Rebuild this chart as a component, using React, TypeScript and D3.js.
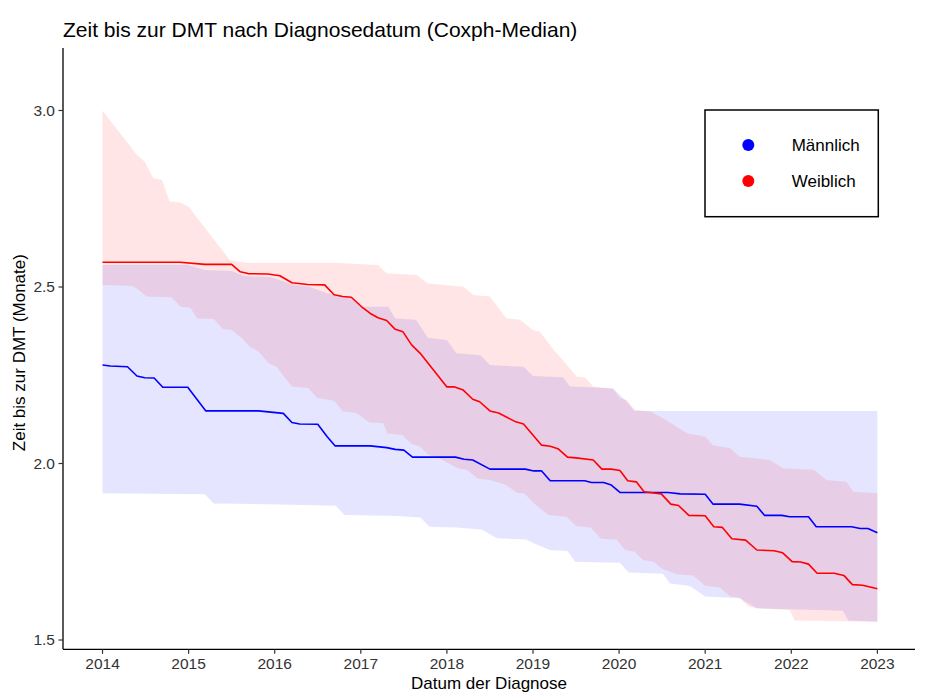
import * as d3 from 'd3'

// [decimal year, months]
const maleMedian: [number, number][] = [
  [2014.0, 2.279], [2014.09, 2.276], [2014.29, 2.274], [2014.4, 2.248], [2014.49, 2.243], [2014.6, 2.242],
  [2014.7, 2.216], [2014.99, 2.216], [2015.2, 2.149], [2015.81, 2.149], [2016.1, 2.142], [2016.2, 2.116],
  [2016.29, 2.112], [2016.5, 2.111], [2016.61, 2.076], [2016.7, 2.05], [2017.11, 2.05], [2017.3, 2.045],
  [2017.4, 2.04], [2017.5, 2.038], [2017.6, 2.018], [2018.1, 2.018], [2018.2, 2.012], [2018.3, 2.01],
  [2018.5, 1.984], [2018.91, 1.984], [2019.01, 1.979], [2019.1, 1.979], [2019.2, 1.951], [2019.6, 1.951],
  [2019.68, 1.946], [2019.82, 1.946], [2019.91, 1.939], [2020.01, 1.918], [2020.57, 1.918], [2020.71, 1.914],
  [2021.0, 1.913], [2021.09, 1.885], [2021.4, 1.885], [2021.6, 1.879], [2021.69, 1.853], [2021.89, 1.853],
  [2021.98, 1.849], [2022.2, 1.849], [2022.29, 1.821], [2022.7, 1.821], [2022.8, 1.816], [2022.89, 1.816],
  [2023.0, 1.804],
]

const maleUpper: [number, number][] = [
  [2014.0, 2.562], [2014.99, 2.562], [2015.19, 2.548], [2015.5, 2.545], [2015.65, 2.531], [2015.95, 2.528],
  [2016.2, 2.508], [2016.41, 2.5], [2016.6, 2.483], [2016.9, 2.469], [2017.01, 2.444], [2017.32, 2.444],
  [2017.4, 2.411], [2017.64, 2.407], [2017.78, 2.356], [2018.0, 2.35], [2018.11, 2.312], [2018.39, 2.307],
  [2018.5, 2.279], [2018.89, 2.274], [2019.0, 2.248], [2019.35, 2.244], [2019.43, 2.218], [2019.93, 2.213],
  [2020.07, 2.18], [2020.18, 2.149], [2023.0, 2.149],
]

const maleLower: [number, number][] = [
  [2014.0, 1.916], [2015.19, 1.913], [2015.29, 1.887], [2016.49, 1.882], [2016.71, 1.88], [2016.81, 1.854],
  [2017.41, 1.851], [2017.69, 1.847], [2017.8, 1.821], [2018.11, 1.819], [2018.41, 1.812], [2018.58, 1.788],
  [2018.92, 1.785], [2019.01, 1.774], [2019.2, 1.754], [2019.4, 1.752], [2019.49, 1.722], [2020.01, 1.719],
  [2020.11, 1.691], [2020.51, 1.688], [2020.59, 1.66], [2020.82, 1.653], [2021.0, 1.623], [2021.4, 1.618],
  [2021.6, 1.59], [2022.6, 1.583], [2022.66, 1.555], [2023.0, 1.552],
]

const femaleMedian: [number, number][] = [
  [2014.0, 2.57], [2014.9, 2.57], [2015.19, 2.564], [2015.5, 2.564], [2015.6, 2.543], [2015.69, 2.538],
  [2015.92, 2.537], [2016.06, 2.532], [2016.2, 2.512], [2016.28, 2.51], [2016.38, 2.507], [2016.58, 2.506],
  [2016.69, 2.478], [2016.79, 2.473], [2016.89, 2.471], [2017.01, 2.444], [2017.11, 2.425], [2017.2, 2.413],
  [2017.3, 2.405], [2017.4, 2.38], [2017.49, 2.373], [2017.59, 2.336], [2017.69, 2.312], [2018.0, 2.217],
  [2018.09, 2.217], [2018.19, 2.208], [2018.3, 2.182], [2018.38, 2.175], [2018.5, 2.149], [2018.6, 2.143],
  [2018.8, 2.118], [2018.89, 2.112], [2019.1, 2.052], [2019.2, 2.049], [2019.29, 2.042], [2019.4, 2.018],
  [2019.5, 2.016], [2019.7, 2.01], [2019.8, 1.984], [2019.91, 1.984], [2020.01, 1.98], [2020.1, 1.951],
  [2020.2, 1.948], [2020.29, 1.92], [2020.49, 1.914], [2020.6, 1.885], [2020.69, 1.881], [2020.81, 1.853],
  [2021.0, 1.852], [2021.1, 1.821], [2021.2, 1.819], [2021.31, 1.787], [2021.47, 1.783], [2021.6, 1.755],
  [2021.8, 1.753], [2021.9, 1.747], [2022.01, 1.722], [2022.11, 1.721], [2022.2, 1.715], [2022.3, 1.689],
  [2022.5, 1.689], [2022.61, 1.683], [2022.71, 1.657], [2022.83, 1.655], [2023.0, 1.645],
]

const femaleUpper: [number, number][] = [
  [2014.0, 3.0], [2014.4, 2.874], [2014.49, 2.855], [2014.59, 2.808], [2014.69, 2.803], [2014.78, 2.742],
  [2014.9, 2.74], [2015.0, 2.727], [2015.48, 2.576], [2015.67, 2.569], [2016.68, 2.569], [2017.2, 2.562],
  [2017.3, 2.539], [2017.65, 2.534], [2017.78, 2.51], [2018.19, 2.501], [2018.31, 2.477], [2018.5, 2.473],
  [2018.69, 2.411], [2018.85, 2.407], [2019.0, 2.378], [2019.08, 2.373], [2019.24, 2.322], [2019.31, 2.303],
  [2019.51, 2.246], [2019.6, 2.244], [2019.7, 2.218], [2019.93, 2.211], [2020.01, 2.185], [2020.09, 2.18],
  [2020.18, 2.152], [2020.36, 2.147], [2020.51, 2.128], [2020.79, 2.086], [2021.0, 2.076], [2021.09, 2.052],
  [2021.29, 2.043], [2021.4, 2.019], [2021.75, 2.01], [2021.91, 1.986], [2022.26, 1.982], [2022.41, 1.953],
  [2022.64, 1.948], [2022.72, 1.92], [2023.0, 1.916],
]

const femaleLower: [number, number][] = [
  [2014.0, 2.506], [2014.34, 2.503], [2014.4, 2.496], [2014.51, 2.473], [2014.8, 2.471], [2014.91, 2.444],
  [2015.02, 2.441], [2015.1, 2.411], [2015.29, 2.409], [2015.4, 2.38], [2015.5, 2.378], [2015.62, 2.355],
  [2015.71, 2.331], [2015.81, 2.317], [2015.93, 2.284], [2016.02, 2.274], [2016.2, 2.218], [2016.39, 2.214],
  [2016.49, 2.186], [2016.69, 2.178], [2016.79, 2.148], [2016.95, 2.143], [2017.1, 2.116], [2017.26, 2.114],
  [2017.31, 2.085], [2017.48, 2.081], [2017.59, 2.055], [2017.68, 2.049], [2017.79, 2.024], [2017.89, 2.018],
  [2018.13, 1.986], [2018.23, 1.982], [2018.36, 1.957], [2018.5, 1.953], [2018.69, 1.939], [2018.81, 1.917],
  [2018.9, 1.915], [2019.02, 1.885], [2019.18, 1.854], [2019.39, 1.849], [2019.5, 1.823], [2019.67, 1.819],
  [2019.79, 1.787], [2019.97, 1.785], [2020.07, 1.755], [2020.18, 1.75], [2020.28, 1.727], [2020.4, 1.722],
  [2020.49, 1.703], [2020.67, 1.686], [2020.86, 1.683], [2021.0, 1.654], [2021.17, 1.649], [2021.29, 1.624],
  [2021.4, 1.62], [2021.5, 1.595], [2021.6, 1.59], [2021.98, 1.585], [2022.04, 1.555], [2023.0, 1.552],
]

const yearTicks = [2014, 2015, 2016, 2017, 2018, 2019, 2020, 2021, 2022, 2023]
const valueTicks = [1.5, 2.0, 2.5, 3.0]

const groups = [
  { label: 'Männlich', color: 'blue', median: maleMedian, lower: maleLower, upper: maleUpper },
  { label: 'Weiblich', color: 'red', median: femaleMedian, lower: femaleLower, upper: femaleUpper },
]

const FONT = '"Liberation Sans", Arial, sans-serif'

export default function App() {
  const left = 63
  const right = 915
  const top = 48
  const bottom = 649.3

  const x = d3.scaleLinear().domain([2013.541, 2023.437]).range([left, right])
  const y = d3.scaleLinear().domain([1.4737, 3.177]).range([bottom, top])

  const line = d3
    .line<[number, number]>()
    .x((d) => x(d[0]))
    .y((d) => y(d[1]))

  // ribbon: upper edge forward, lower edge back
  const ribbon = (upper: [number, number][], lower: [number, number][]) =>
    line([...upper, ...[...lower].reverse()]) + 'Z'

  return (
    <div style={{ position: 'absolute', left: 0, top: 0 }}>
      <svg width={930} height={697} style={{ display: 'block', background: '#fff' }} fontFamily={FONT}>
        <text x={63} y={37} fontSize={21} fill="#000">
          Zeit bis zur DMT nach Diagnosedatum (Coxph-Median)
        </text>

        {groups.map((g) => (
          <path key={g.label + '-band'} d={ribbon(g.upper, g.lower)} fill={g.color} fillOpacity={0.1} />
        ))}
        {groups.map((g) => (
          <path
            key={g.label + '-line'}
            d={line(g.median) ?? ''}
            fill="none"
            stroke={g.color}
            strokeWidth={1.6}
            strokeLinejoin="round"
          />
        ))}

        {/* axes */}
        <line x1={left} x2={left} y1={top} y2={bottom} stroke="#000" strokeWidth={1.3} />
        <line x1={left} x2={right} y1={bottom} y2={bottom} stroke="#000" strokeWidth={1.3} />
        {valueTicks.map((t) => (
          <g key={'y' + t}>
            <line x1={left - 4.5} x2={left} y1={y(t)} y2={y(t)} stroke="#333" strokeWidth={1.2} />
            <text x={left - 8} y={y(t)} dy="0.35em" textAnchor="end" fontSize={15.5} fill="#333">
              {d3.format('.1f')(t)}
            </text>
          </g>
        ))}
        {yearTicks.map((t) => (
          <g key={'x' + t}>
            <line x1={x(t)} x2={x(t)} y1={bottom} y2={bottom + 4.5} stroke="#333" strokeWidth={1.2} />
            <text x={x(t)} y={669} textAnchor="middle" fontSize={15.5} fill="#333">
              {t}
            </text>
          </g>
        ))}
        <text x={(left + right) / 2} y={689} textAnchor="middle" fontSize={17} fill="#000">
          Datum der Diagnose
        </text>
        <text
          transform={`translate(25,${(top + bottom) / 2 + 4}) rotate(-90)`}
          textAnchor="middle"
          fontSize={17}
          fill="#000"
        >
          Zeit bis zur DMT (Monate)
        </text>

        {/* legend */}
        <rect x={705} y={110} width={173.3} height={106.7} fill="#fff" stroke="#000" strokeWidth={1.5} />
        {groups.map((g, i) => (
          <g key={g.label + '-key'}>
            <circle cx={748.3} cy={145 + i * 36} r={6} fill={g.color} />
            <text x={791.7} y={145 + i * 36} dy="0.36em" fontSize={17} fill="#000">
              {g.label}
            </text>
          </g>
        ))}
      </svg>
    </div>
  )
}
